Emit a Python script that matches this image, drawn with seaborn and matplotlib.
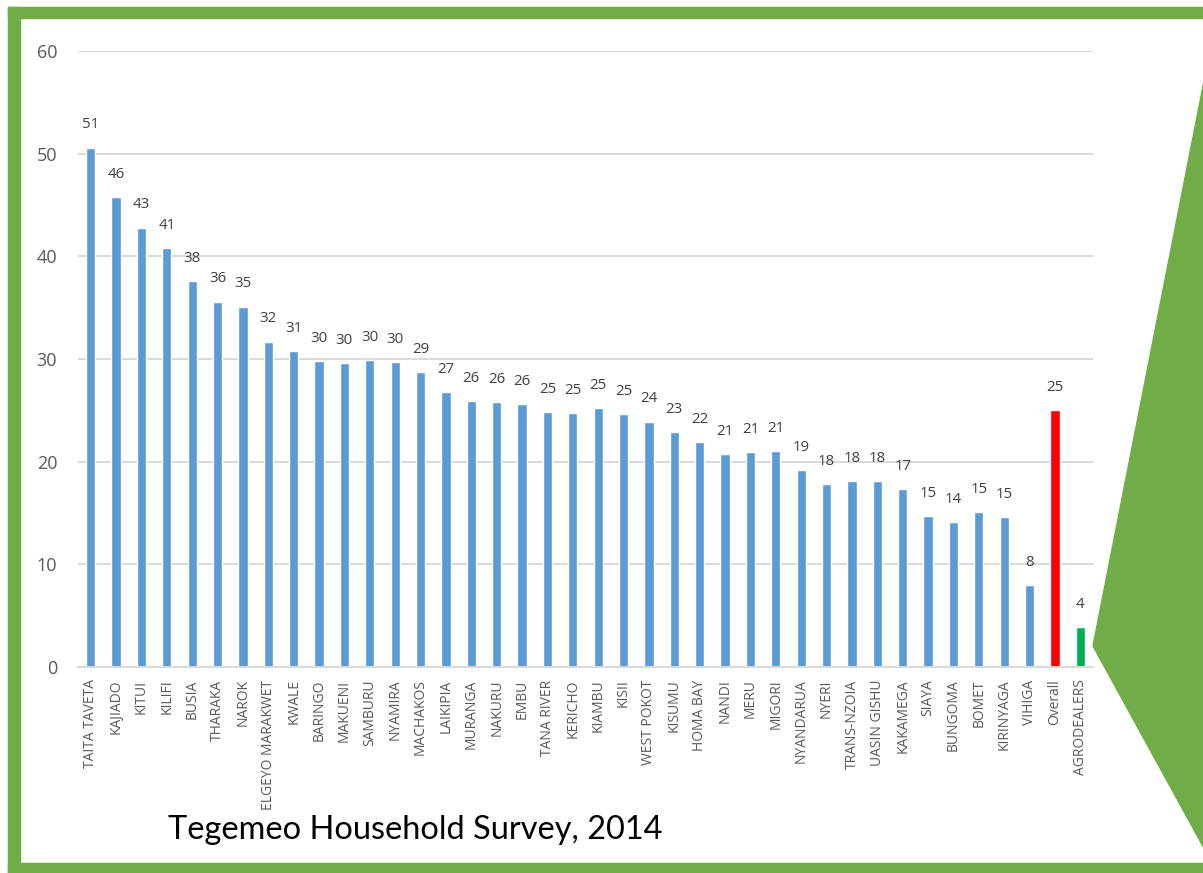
import matplotlib
matplotlib.use("Agg")
import matplotlib.pyplot as plt
from matplotlib.patches import Polygon, Rectangle
import seaborn as sns
import pandas as pd

# County-level values, Tegemeo Household Survey 2014
counties = [
    "TAITA TAVETA", "KAJIADO", "KITUI", "KILIFI", "BUSIA", "THARAKA", "NAROK",
    "ELGEYO MARAKWET", "KWALE", "BARINGO", "MAKUENI", "SAMBURU", "NYAMIRA",
    "MACHAKOS", "LAIKIPIA", "MURANGA", "NAKURU", "EMBU", "TANA RIVER",
    "KERICHO", "KIAMBU", "KISII", "WEST POKOT", "KISUMU", "HOMA BAY", "NANDI",
    "MERU", "MIGORI", "NYANDARUA", "NYERI", "TRANS-NZOIA", "UASIN GISHU",
    "KAKAMEGA", "SIAYA", "BUNGOMA", "BOMET", "KIRINYAGA", "VIHIGA",
    "Overall", "AGRODEALERS",
]
values = [
    50.6, 45.8, 42.8, 40.8, 37.6, 35.6, 35.1,
    31.7, 30.8, 29.8, 29.6, 29.9, 29.7,
    28.7, 26.8, 25.9, 25.8, 25.6, 24.8,
    24.7, 25.2, 24.6, 23.9, 22.9, 21.9, 20.7,
    20.9, 21.0, 19.2, 17.8, 18.1, 18.1,
    17.3, 14.7, 14.1, 15.1, 14.6, 8.0,
    25.0, 3.9,
]
y_ticks = [0, 10, 20, 30, 40, 50, 60]
caption = "Tegemeo Household Survey, 2014"

BLUE = "#5b9bd5"
RED = "#ff0000"
GREEN_BAR = "#00b050"
FRAME_GREEN = "#70ad47"
GRID = "#d9d9d9"
TEXT = "#595959"

palette = {c: BLUE for c in counties}
palette["Overall"] = RED
palette["AGRODEALERS"] = GREEN_BAR

df = pd.DataFrame({"county": counties, "value": values})

sns.set_theme(style="white")
plt.rcParams["font.family"] = ["Open Sans", "DejaVu Sans"]

W, H = 1203, 873
fig = plt.figure(figsize=(W / 100, H / 100), dpi=100)
fig.patch.set_facecolor("white")

# Slide frame: green bands on top, left and bottom, and the arrow shape at right
fig.patches.append(Rectangle((8 / W, 1 - 18 / H), 1 - 8 / W, 11 / H,
                             transform=fig.transFigure, color=FRAME_GREEN, zorder=0))
fig.patches.append(Rectangle((8 / W, 0), 12 / W, 1 - 7 / H,
                             transform=fig.transFigure, color=FRAME_GREEN, zorder=0))
fig.patches.append(Rectangle((8 / W, 0), 1 - 8 / W, 10 / H,
                             transform=fig.transFigure, color=FRAME_GREEN, zorder=0))
fig.patches.append(Polygon([(1 + 2 / W, 1 - 76 / H), (1093 / W, 1 - 646 / H),
                            (1 + 2 / W, 1 - 850 / H)],
                           closed=True, transform=fig.transFigure,
                           color=FRAME_GREEN, zorder=0))

ax = fig.add_axes([78 / W, 1 - 667 / H, (1093 - 78) / W, (667 - 51) / H])
ax.set_facecolor("none")

sns.barplot(data=df, x="county", y="value", hue="county", palette=palette,
            legend=False, width=0.36, saturation=1, ax=ax)

for cont in ax.containers:
    ax.bar_label(cont, fmt="{:.0f}", padding=11, fontsize=10.8, color="#404040")

ax.set_ylim(0, 60)
ax.set_yticks(y_ticks)
ax.set_xlim(-0.5, len(counties) - 0.5)
ax.yaxis.grid(True, color=GRID, linewidth=1.4)
ax.set_axisbelow(True)
for side in ["top", "right", "left"]:
    ax.spines[side].set_visible(False)
ax.spines["bottom"].set_color(GRID)
ax.spines["bottom"].set_linewidth(1.4)
ax.tick_params(axis="y", length=0, pad=15, labelsize=13, labelcolor=TEXT)
ax.tick_params(axis="x", length=0, pad=9, labelsize=10, labelcolor=TEXT)
plt.setp(ax.get_xticklabels(), rotation=90)
ax.set_xlabel("")
ax.set_ylabel("")

fig.text(168 / W, 1 - 830 / H, caption, fontsize=23.4, color="black",
         ha="left", va="center", family=["Lato", "DejaVu Sans"])

fig.savefig("out.png", dpi=100)
